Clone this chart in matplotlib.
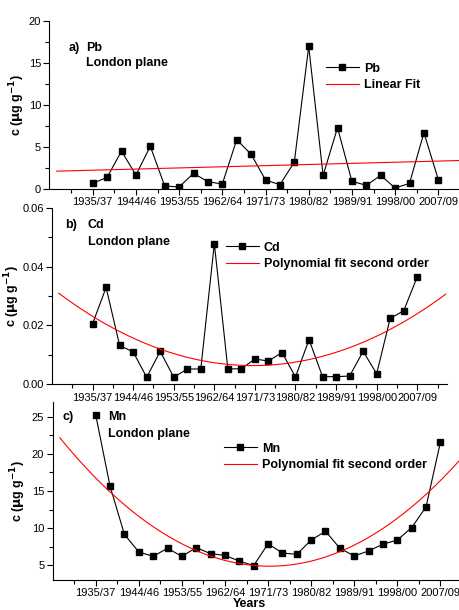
import numpy as np
import matplotlib
matplotlib.use('Agg')
import matplotlib.pyplot as plt

plt.rcParams['font.family'] = ['Liberation Sans', 'DejaVu Sans']

# periods (one point every 3 years), labels every third period
period_idx = np.arange(25)
tick_labels = ['1935/37', '1944/46', '1953/55', '1962/64', '1971/73',
               '1980/82', '1989/91', '1998/00', '2007/09']

pb = [0.67, 1.39, 4.5, 1.66, 5.07, 0.36, 0.24, 1.86, 0.87, 0.59, 5.86, 4.12, 1.07,
      0.51, 3.2, 16.95, 1.62, 7.29, 0.91, 0.44, 1.62, 0.12, 0.67, 6.69, 1.11]
cd = [0.0206, 0.0329, 0.0132, 0.0110, 0.0024, 0.0112, 0.0024, 0.0052, 0.0052,
      0.0478, 0.0052, 0.0053, 0.0086, 0.0079, 0.0108, 0.0025, 0.0152, 0.0026,
      0.0026, 0.0028, 0.0112, 0.0036, 0.0224, 0.0250, 0.0365]
mn = [25.27, 15.64, 9.16, 6.78, 6.19, 7.28, 6.19, 7.37, 6.55, 6.32, 5.55, 4.95,
      7.88, 6.64, 6.46, 8.38, 9.57, 7.28, 6.23, 6.92, 7.83, 8.38, 10.07, 12.85, 21.58]

W, H = 460, 610
fig = plt.figure(figsize=(W / 100, H / 100), dpi=100)

def px_axes(left, right, top, bottom):
    return fig.add_axes([left / W, 1 - bottom / H, (right - left) / W, (bottom - top) / H])

ax_a = px_axes(49.5, 470, 20.7, 189)
ax_b = px_axes(52, 447, 207.7, 384.3)
ax_c = px_axes(52.6, 472, 402, 580)

xfit = np.linspace(-2.5, 26.1, 200)

panels = [
    (ax_a, pb, 'Pb', 1, 'Linear Fit', (0, 20), [0, 5, 10, 15, 20], 2.5, '%d', -0.0535),
    (ax_b, cd, 'Cd', 2, 'Polynomial fit second order', (0, 0.06), [0, 0.02, 0.04, 0.06], 0.01, '%.2f', -0.076),
    (ax_c, mn, 'Mn', 2, 'Polynomial fit second order', (3, 27), [5, 10, 15, 20, 25], 2.5, '%d', -0.0587),
]

for ax, vals, name, deg, fitlab, ylim, yticks, minor, fmt, ylx in panels:
    coef = np.polyfit(period_idx, vals, deg)
    ax.plot(period_idx, vals, color='black', lw=0.8, marker='s', ms=4.2, label=name)
    ax.plot(xfit, np.polyval(coef, xfit), color='red', lw=0.8, label=fitlab)

    ax.set_xlim(-3, 26.2)
    ax.set_ylim(*ylim)
    ax.set_xticks(np.arange(0, 25, 3))
    ax.set_xticklabels(tick_labels)
    ax.set_xticks(np.arange(-1.5, 26, 3), minor=True)
    ax.set_yticks(yticks)
    ax.yaxis.set_major_formatter(matplotlib.ticker.FormatStrFormatter(fmt))
    ax.yaxis.set_minor_locator(matplotlib.ticker.MultipleLocator(minor))
    ax.tick_params(which='major', length=4, width=0.8, labelsize=8, pad=2)
    ax.tick_params(which='minor', length=3, width=0.8)
    for s in ['top', 'right']:
        ax.spines[s].set_visible(False)
    for s in ['left', 'bottom']:
        ax.spines[s].set_linewidth(0.8)
    ax.patch.set_alpha(0)

    ax.set_ylabel(r'c ($\mathbf{\mu}$g g$^{\mathbf{-1}}$)', fontsize=9, fontweight='bold')
    ax.yaxis.set_label_coords(ylx, 0.5)

    ax.legend(loc='upper left', frameon=False,
              handlelength=2.6, handletextpad=0.4, borderpad=0, labelspacing=0.35,
              prop={'weight': 'bold', 'size': 9})

for tag, name, tx, nx, ty, ny in [
        ('a)', 'Pb', 68.5, 86, 48, 63),
        ('b)', 'Cd', 65.5, 88, 225, 242),
        ('c)', 'Mn', 63, 108, 417, 434)]:
    fig.text(tx / W, 1 - ty / H, tag, fontsize=9, fontweight='bold', va='center')
    fig.text(nx / W, 1 - ty / H, name, fontsize=9, fontweight='bold', va='center')
    fig.text(nx / W, 1 - ny / H, 'London plane', fontsize=9, fontweight='bold', va='center')

# legend positions (upper-left corner in pixels)
for ax, lx, ly in [(ax_a, 320, 56.5), (ax_b, 220, 235.5), (ax_c, 218, 436.5)]:
    leg = ax.get_legend()
    leg.set_bbox_to_anchor((lx / W, 1 - ly / H), transform=fig.transFigure)

ax_c.set_xlabel('Years', fontsize=9, fontweight='bold')
ax_c.xaxis.set_label_coords(0.47, -0.1)

fig.savefig('out.png', dpi=100)
